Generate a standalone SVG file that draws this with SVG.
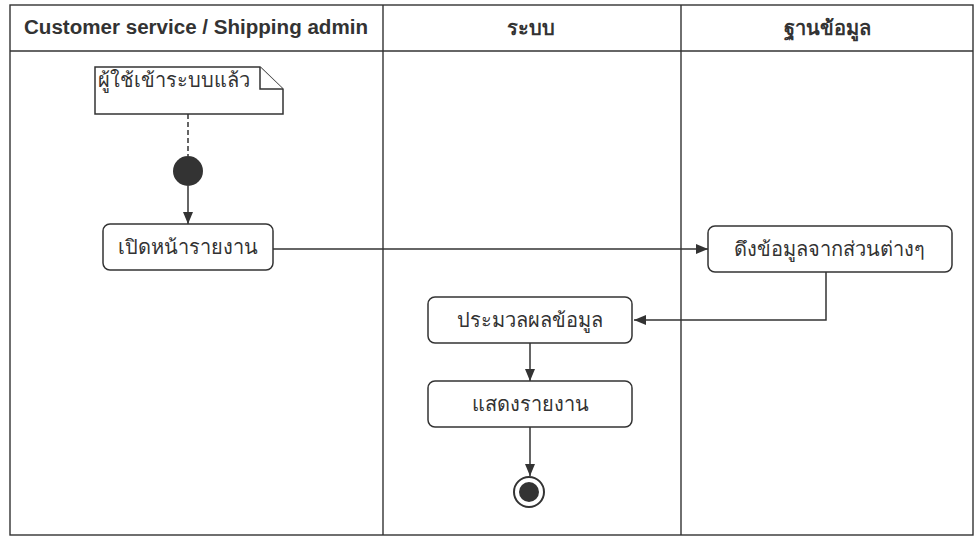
<svg xmlns="http://www.w3.org/2000/svg" width="975" height="538" viewBox="0 0 975 538">
<defs>
<style>
.lane{fill:none;stroke:#333;stroke-width:1.4}
.hdr{font-family:"Liberation Sans","Noto Sans",sans-serif;font-size:20px;font-weight:bold;fill:#333;text-anchor:middle}
.act{fill:#fff;stroke:#333;stroke-width:1.5}
.lbl{font-family:"Noto Sans","DejaVu Sans",sans-serif;font-size:20px;fill:#333;text-anchor:middle}
.con{fill:none;stroke:#333;stroke-width:1.5}
</style>
<marker id="arr" viewBox="0 0 12 10" refX="12" refY="5" markerWidth="12" markerHeight="10" markerUnits="userSpaceOnUse" orient="auto">
<path d="M0,0 L12,5 L0,10 z" fill="#333"/>
</marker>
</defs>
<rect width="975" height="538" fill="#fff"/>
<g id="lanes">
<rect class="lane" x="10" y="5" width="963" height="530"/>
<line class="lane" x1="10" y1="51" x2="973" y2="51"/>
<line class="lane" x1="383" y1="5" x2="383" y2="535"/>
<line class="lane" x1="681" y1="5" x2="681" y2="535"/>
<text class="hdr" x="196" y="34" textLength="344" lengthAdjust="spacingAndGlyphs">Customer service / Shipping admin</text>
<text class="hdr" x="531" y="35">ระบบ</text>
<text class="hdr" x="827" y="35">ฐานข้อมูล</text>
</g>
<g id="connectors">
<line x1="188" y1="114" x2="188" y2="156" stroke="#333" stroke-width="1.5" stroke-dasharray="5,3"/>
<line class="con" x1="188" y1="186" x2="188" y2="224" marker-end="url(#arr)"/>
<line class="con" x1="273" y1="249" x2="708" y2="249" marker-end="url(#arr)"/>
<polyline class="con" points="826,272 826,320 634,320" marker-end="url(#arr)"/>
<line class="con" x1="530" y1="343" x2="530" y2="381" marker-end="url(#arr)"/>
<line class="con" x1="530" y1="427" x2="530" y2="476" marker-end="url(#arr)"/>
</g>
<g id="note">
<path class="act" d="M95,67 L260,67 L283,89 L283,114 L95,114 Z"/>
<path class="act" d="M260,67 L260,89 L283,89"/>
<text x="98" y="87" font-family="Noto Sans,DejaVu Sans,sans-serif" font-size="20" fill="#333">ผู้ใช้เข้าระบบแล้ว</text>
</g>
<g id="start">
<circle cx="188" cy="171" r="15" fill="#333"/>
</g>
<g id="open-report">
<rect class="act" x="103" y="224" width="170" height="46" rx="7"/>
<text class="lbl" x="188" y="254">เปิดหน้ารายงาน</text>
</g>
<g id="fetch-data">
<rect class="act" x="708" y="226" width="244" height="46" rx="7"/>
<text class="lbl" x="829" y="256">ดึงข้อมูลจากส่วนต่างๆ</text>
</g>
<g id="process-data">
<rect class="act" x="428" y="297" width="204" height="46" rx="7"/>
<text class="lbl" x="530" y="327">ประมวลผลข้อมูล</text>
</g>
<g id="show-report">
<rect class="act" x="428" y="381" width="204" height="46" rx="7"/>
<text class="lbl" x="530" y="411">แสดงรายงาน</text>
</g>
<g id="end">
<circle cx="529" cy="492" r="15" fill="#fff" stroke="#333" stroke-width="2"/>
<circle cx="529" cy="492" r="10" fill="#333"/>
</g>
</svg>
